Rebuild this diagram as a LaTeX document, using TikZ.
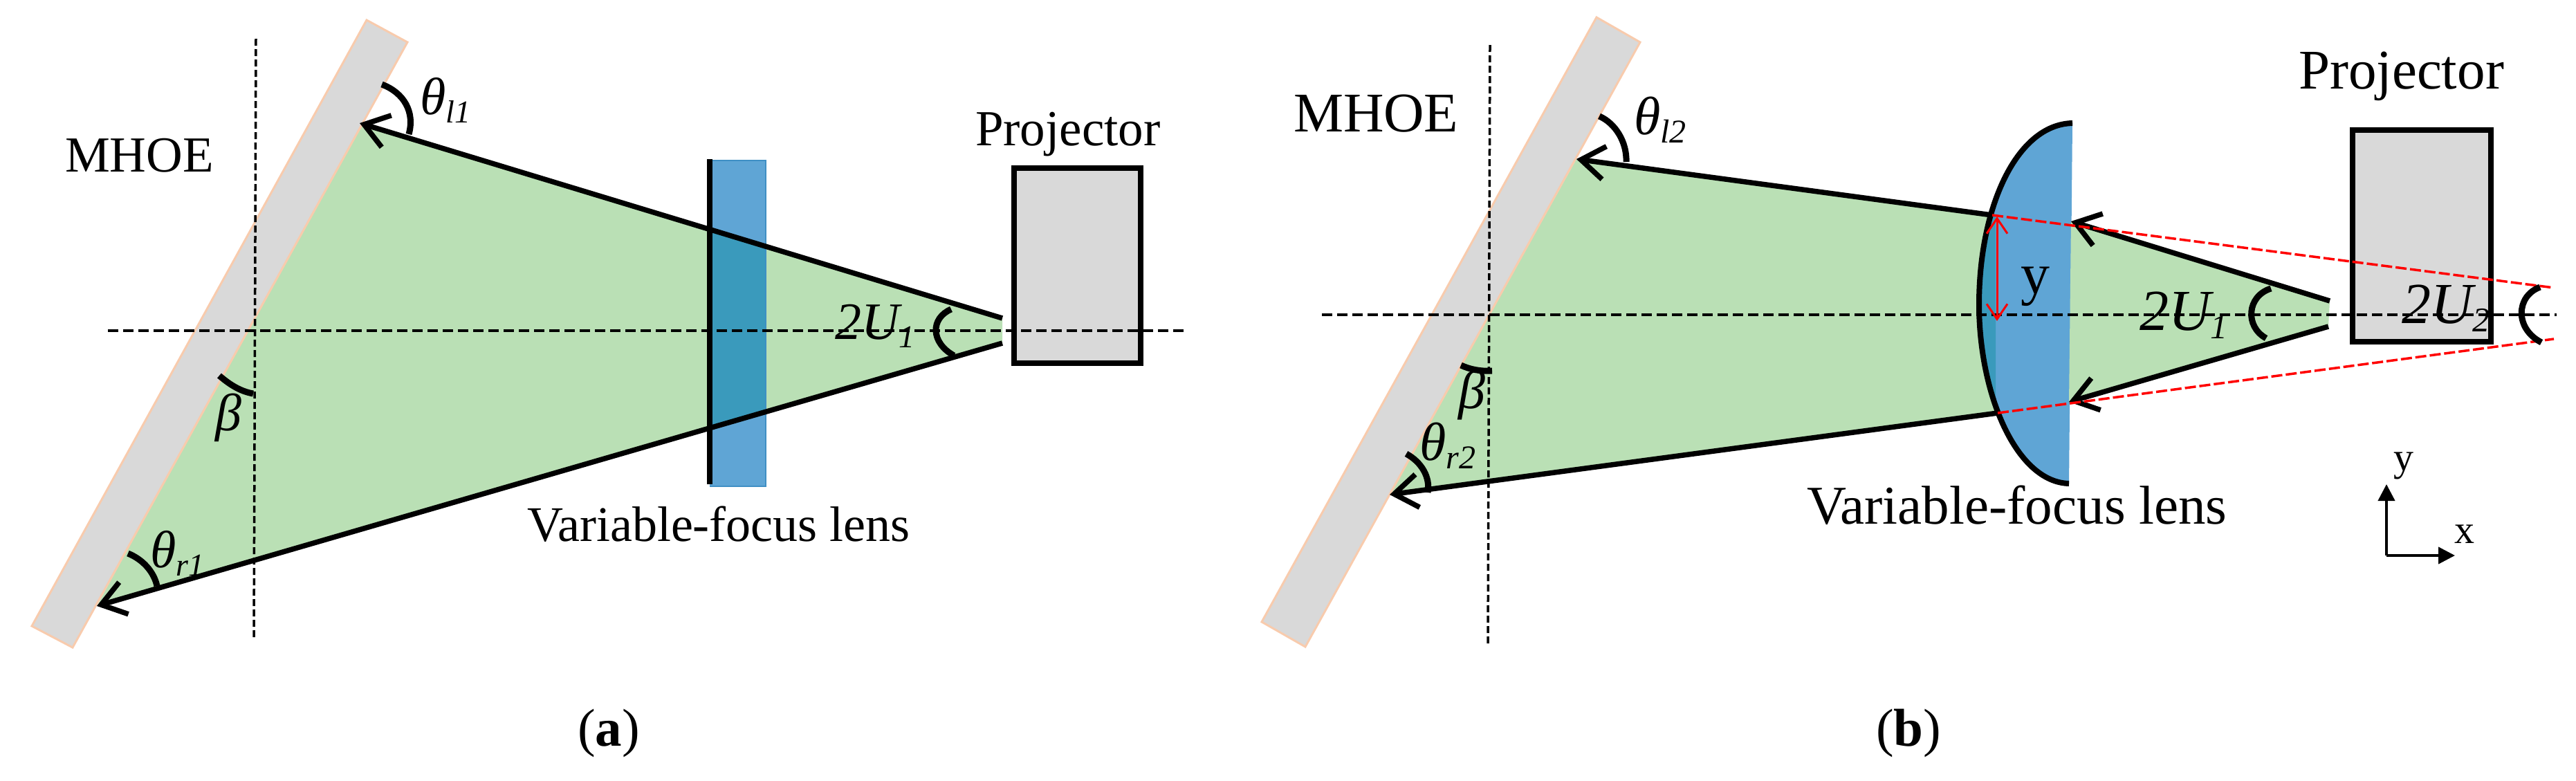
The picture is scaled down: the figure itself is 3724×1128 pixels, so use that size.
\documentclass[tikz,border=0pt]{standalone}
\usepackage{fontspec}
\setmainfont{Liberation Serif}
\usetikzlibrary{arrows.meta}
\definecolor{beam}{HTML}{BAE0B5}
\definecolor{barfill}{HTML}{D9D9D9}
\definecolor{baredge}{HTML}{F8CBAD}
\definecolor{lensblue}{HTML}{5FA5D5}
\definecolor{lensedge}{HTML}{3F8FC4}
\definecolor{lensdeep}{HTML}{3A9ABC}
\newcommand{\fs}[1]{\fontsize{#1}{#1}\selectfont}
\tikzset{
  x=1pt,y=-1pt,
  mirrorbar/.style={fill=barfill,draw=baredge,line width=3pt,line join=miter},
  axisdash/.style={black,line width=3.5pt,dash pattern=on 15pt off 7pt},
  normaldash/.style={black,line width=3.5pt,dash pattern=on 10pt off 5pt},
  ray/.style={black,line width=7.5pt},
  rayarrow/.style={ray,-{Straight Barb[length=34pt,width=48pt,line width=7.5pt]}},
  anglearc/.style={black,line width=9pt},
  box/.style={fill=barfill,draw=black,line width=8.5pt},
  redray/.style={red,line width=3.5pt,dash pattern=on 16pt off 5pt},
  txt/.style={anchor=base west,inner sep=0pt,outer sep=0pt},
  redarrow/.style={red,line width=3pt,{Straight Barb[length=22pt,width=30pt,line width=3pt]}-{Straight Barb[length=22pt,width=30pt,line width=3pt]}},
  axisarrow/.style={black,line width=4pt,-{Triangle[length=24pt,width=24pt]}}
}
\begin{document}
\begin{tikzpicture}
\useasboundingbox (0,0) rectangle (3724,1128);
% ---------- panel (a) ----------
\coordinate (aTip1) at (520,178);
\coordinate (aTip2) at (140,876);
\coordinate (aApex1) at (1449,460);
\coordinate (aApex2) at (1449,496);
\fill[beam] (aTip1) -- (aApex1) -- (aApex2) -- (aTip2) -- cycle;
\draw[mirrorbar] (530,29) -- (589,61) -- (105,936) -- (46,905) -- cycle;
\fill[lensblue] (1026,232) rectangle (1107,703);
\begin{scope}
  \clip (aTip1) -- (aApex1) -- (aApex2) -- (aTip2) -- cycle;
  \fill[lensdeep] (1026,232) rectangle (1107,703);
\end{scope}
\draw[lensedge,line width=2.5pt] (1026,232) -- (1107,232) -- (1107,703) -- (1026,703);
\draw[black,line width=7.5pt] (1026,230) -- (1026,700);
\draw[box] (1466,243) rectangle (1649,525);
\coordinate (aH1) at (156,478); \coordinate (aH2) at (1714,478);
\draw[axisdash] (aH1) -- (aH2);
\coordinate (aV1) at (370,56); \coordinate (aV2) at (367,923);
\draw[normaldash] (aV1) -- (aV2);
\draw[rayarrow] (aApex1) -- (aTip1);
\draw[rayarrow] (aApex2) -- (aTip2);
\draw[anglearc] (552,122) .. controls (584,134) and (600,162) .. (591,194);
\draw[anglearc] (185,800) .. controls (205,808) and (222,825) .. (227,847);
\draw[anglearc] (317,543) .. controls (332,556) and (348,566) .. (366,569);
\draw[anglearc] (1375,447) .. controls (1345,460) and (1345,495) .. (1379,514);
\node[txt] (aMhoe) at (94,248) {\fs{73}MHOE};
\node[txt] (aProjT) at (1410,210) {\fs{73}Projector};
\node[txt] (aLens) at (762,782) {\fs{72}Variable-focus lens};
\node[txt] (aThL) at (607,165) {\fs{76}\itshape θ\raisebox{-12pt}{\fs{46}l1}};
\node[txt] (aThR) at (217,820) {\fs{76}\itshape θ\raisebox{-12pt}{\fs{46}r1}};
\node[txt] (aBeta) at (311,622) {\fs{76}\itshape β};
\node[txt] (aU) at (1207,490) {\fs{76}\itshape 2U\raisebox{-12pt}{\fs{46}1}};
\node[txt] (aCap) at (835,1078) {\fs{77}(\textbf{a})};
% ---------- panel (b) ----------
\coordinate (bTip1) at (2279,230);
\coordinate (bTip2) at (2009,715);
\coordinate (bL1) at (2880,311);
\coordinate (bL2) at (2888,597);
\coordinate (bR1) at (2994,320);
\coordinate (bR2) at (2991,581);
\coordinate (bApex1) at (3368,435);
\coordinate (bApex2) at (3366,472);
\fill[beam] (bTip1) -- (bL1) -- (2886,597) -- (bTip2) -- cycle;
\draw[mirrorbar] (2308,25) -- (2371,61) -- (1887,935) -- (1824,899) -- cycle;
\fill[lensblue] (2996,178) .. controls (2915,180) and (2861,300) .. (2861,440) .. controls (2861,570) and (2915,697) .. (2991,699) -- cycle;
\begin{scope}
  \clip (2996,178) .. controls (2915,180) and (2861,300) .. (2861,440) .. controls (2861,570) and (2915,697) .. (2991,699) -- cycle;
  \fill[lensdeep] (2850,300) -- (2885,311) -- (2885,597) -- (2850,600) -- cycle;
\end{scope}
\fill[beam] (bR1) -- (bApex1) -- (bApex2) -- (bR2) -- cycle;
\draw[black,line width=8pt] (2996,178) .. controls (2915,180) and (2861,300) .. (2861,440) .. controls (2861,570) and (2915,697) .. (2991,699);
\draw[box] (3401,188) rectangle (3601,494);
\coordinate (bH1) at (1911,455); \coordinate (bH2) at (3696,455);
\draw[axisdash] (bH1) -- (bH2);
\coordinate (bV1) at (2154,65); \coordinate (bV2) at (2151,933);
\draw[normaldash] (bV1) -- (bV2);
\draw[rayarrow] (bL1) -- (bTip1);
\draw[rayarrow] (bL2) -- (bTip2);
\draw[rayarrow] (bApex1) -- (bR1);
\draw[rayarrow] (bApex2) -- (bR2);
\coordinate (bRedE1) at (3692,416); \coordinate (bRedE2) at (3692,490);
\draw[redray] (bL1) -- (bRedE1);
\draw[redray] (bL2) -- (bRedE2);
\coordinate (bY1) at (2887,313); \coordinate (bY2) at (2887,464);
\draw[redarrow] (bY1) -- (bY2);
\draw[anglearc] (2312,168) .. controls (2335,178) and (2352,205) .. (2351,234);
\draw[anglearc] (2033,656) .. controls (2055,668) and (2068,690) .. (2064,712);
\draw[anglearc] (2112,528) .. controls (2125,534) and (2140,537) .. (2157,536);
\draw[anglearc] (3283,417) .. controls (3248,428) and (3245,472) .. (3276,489);
\draw[anglearc] (3672,415) .. controls (3637,428) and (3635,475) .. (3674,495);
\node[txt] (bMhoe) at (1870,190) {\fs{81}MHOE};
\node[txt] (bProjT) at (3323,128) {\fs{81}Projector};
\node[txt] (bLens) at (2612,757) {\fs{79}Variable-focus lens};
\node[txt] (bThL) at (2362,194) {\fs{78}\itshape θ\raisebox{-12pt}{\fs{48}l2}};
\node[txt] (bThR) at (2052,665) {\fs{78}\itshape θ\raisebox{-12pt}{\fs{48}r2}};
\node[txt] (bBeta) at (2108,590) {\fs{78}\itshape β};
\node[txt] (bY) at (2921,424) {\fs{84}y};
\node[txt] (bU1) at (3093,477) {\fs{84}\itshape 2U\raisebox{-12pt}{\fs{50}1}};
\node[txt] (bU2) at (3472,467) {\fs{84}\itshape 2U\raisebox{-12pt}{\fs{50}2}};
\node[txt] (bYax) at (3460,680) {\fs{58}y};
\node[txt] (bXax) at (3548,785) {\fs{58}x};
\coordinate (bO) at (3450,803);
\coordinate (bOy) at (3450,700);
\coordinate (bOx) at (3549,803);
\draw[axisarrow] (bO) -- (bOy);
\draw[axisarrow] (bO) -- (bOx);
\node[txt] (bCap) at (2712,1078) {\fs{77}(\textbf{b})};
\end{tikzpicture}
\end{document}
